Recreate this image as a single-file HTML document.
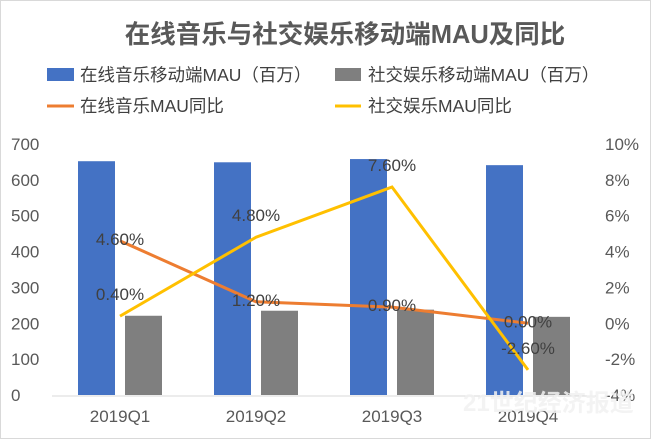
<!DOCTYPE html>
<html><head><meta charset="utf-8"><style>
body{margin:0;background:#fff;}
#c{position:relative;width:651px;height:439px;overflow:hidden;box-sizing:border-box;border:1px solid #d9d9d9;}
text{font-family:"Liberation Sans","Noto Sans CJK SC",sans-serif;}
</style></head><body>
<div id="c">
<svg id="s" width="651" height="439">
<text x="344" y="42" text-anchor="middle" font-size="25.5" font-weight="bold" fill="#595959">在线音乐与社交娱乐移动端MAU及同比</text>
<g>
<rect x="46" y="67" width="27" height="13" fill="#4472c4"/>
<text x="79" y="80" font-size="17.5" fill="#404040">在线音乐移动端MAU（百万）</text>
<rect x="334" y="67" width="26" height="13" fill="#7f7f7f"/>
<text x="367" y="80" font-size="17.5" fill="#404040">社交娱乐移动端MAU（百万）</text>
<line x1="46" y1="105" x2="73" y2="105" stroke="#ed7d31" stroke-width="3"/>
<text x="79" y="111" font-size="17.5" fill="#404040">在线音乐MAU同比</text>
<line x1="334" y1="105" x2="360" y2="105" stroke="#ffc000" stroke-width="3"/>
<text x="367" y="111" font-size="17.5" fill="#404040">社交娱乐MAU同比</text>
</g>
<g id="plot"></g>
<text x="462" y="410" font-size="24" font-weight="bold" fill="#f2f2f2" opacity="0.85">21世纪经济报道</text>
</svg>
</div>
<script>
const categories=["2019Q1","2019Q2","2019Q3","2019Q4"];
const musicMau=[652,649,658,641];
const socialMau=[221,235,238,218];
const musicYoy=[4.6,1.2,0.9,0.0];
const socialYoy=[0.4,4.8,7.6,-2.6];
const leftTicks=[0,100,200,300,400,500,600,700];
const rightTicks=[-4,-2,0,2,4,6,8,10];

const NS="http://www.w3.org/2000/svg";
const g=document.getElementById('plot');
const X0=51,X1=595,Y0=394,Y1=143;
const bw=(X1-X0)/categories.length;
const yL=v=>Y0-(v-0)/(700-0)*(Y0-Y1);
const yR=v=>Y0-(v+4)/14*(Y0-Y1);
const cx=i=>X0+bw*(i+0.5);
function mk(t,a){const e=document.createElementNS(NS,t);for(const k in a)e.setAttribute(k,a[k]);g.appendChild(e);return e;}
let e=mk('line',{x1:X0,y1:Y0+1,x2:X1,y2:Y0+1,stroke:'#d9d9d9','stroke-width':1});


leftTicks.forEach(v=>{const t=mk('text',{x:10,y:yL(v)+6,'font-size':17,fill:'#595959'});t.textContent=v;

});
rightTicks.forEach(v=>{const t=mk('text',{x:604,y:yR(v)+6,'font-size':17,fill:'#595959'});t.textContent=v+'%';

});
categories.forEach((c,i)=>{
 let b=mk('rect',{x:cx(i)-42,y:yL(musicMau[i]),width:37,height:Y0-yL(musicMau[i]),fill:'#4472c4'});
 
 
 b=mk('rect',{x:cx(i)+5,y:yL(socialMau[i]),width:37,height:Y0-yL(socialMau[i]),fill:'#7f7f7f'});
 
 
 const t=mk('text',{x:cx(i),y:421,'font-size':17,fill:'#595959','text-anchor':'middle'});t.textContent=c;
 
 
});
function line(arr,col,name){
 const p=mk('polyline',{points:arr.map((v,i)=>cx(i)+','+yR(v)).join(' '),fill:'none',stroke:col,'stroke-width':3});
 
 
}
line(musicYoy,'#ed7d31','line-music-yoy');
line(socialYoy,'#ffc000','line-social-yoy');
function labels(arr,dy,name){arr.forEach((v,i)=>{const t=mk('text',{x:cx(i),y:yR(v)+dy,'font-size':17,fill:'#404040','text-anchor':'middle'});t.textContent=v.toFixed(2)+'%';
 
 });}
labels(musicYoy,4,'label-music-yoy');
labels(socialYoy,-16,'label-social-yoy');
</script>
</body></html>
